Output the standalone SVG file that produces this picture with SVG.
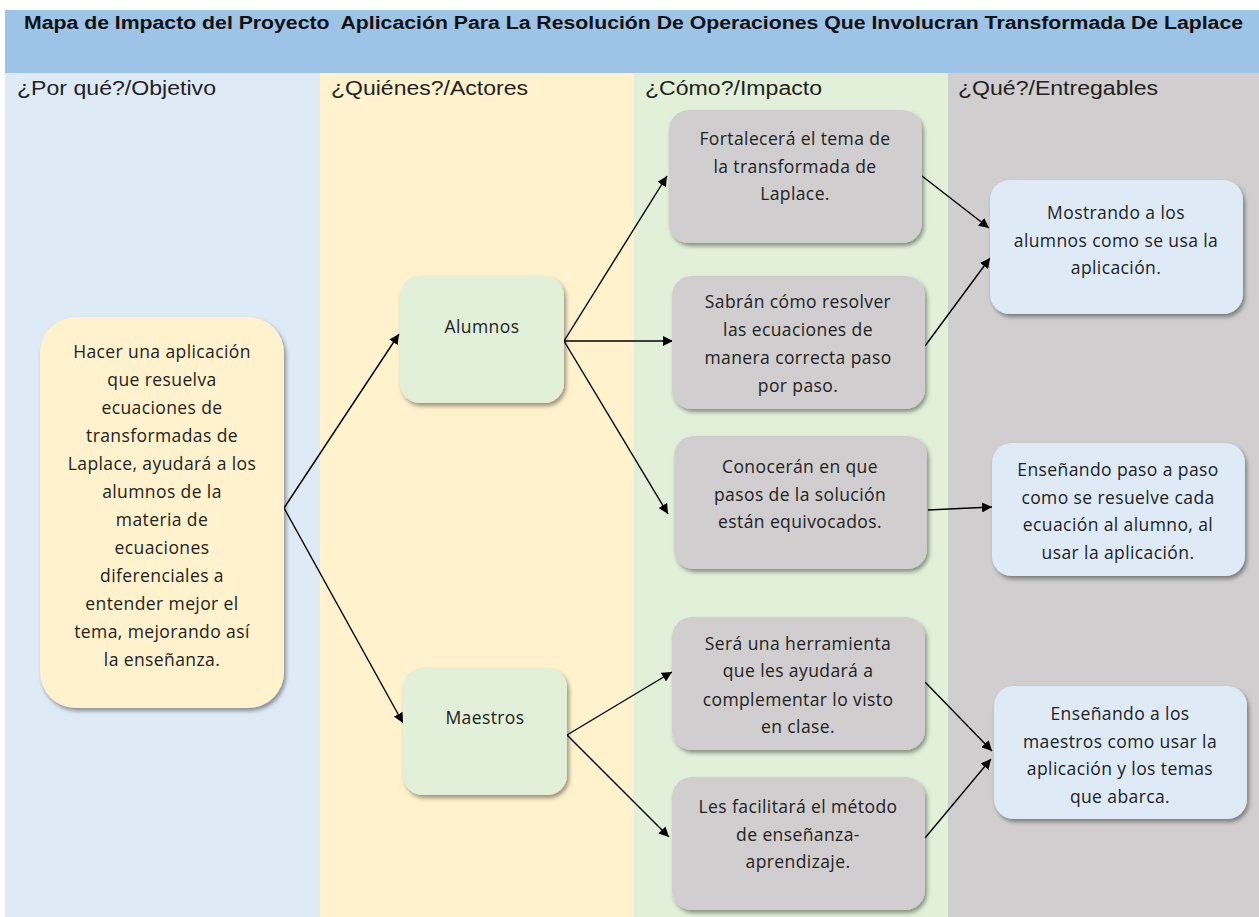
<svg xmlns="http://www.w3.org/2000/svg" width="1259" height="917" viewBox="0 0 1259 917">
  <defs>
    <filter id="shadow" x="-10%" y="-10%" width="125%" height="125%">
      <feDropShadow dx="2" dy="3" stdDeviation="2" flood-color="#000" flood-opacity="0.4"/>
    </filter>
    <marker id="arrow" viewBox="0 0 10 10" refX="10" refY="5" markerWidth="10" markerHeight="10" markerUnits="userSpaceOnUse" orient="auto">
      <path d="M0,0 L10,5 L0,10 z" fill="#000"/>
    </marker>
  </defs>
  <style>
    .title { font-family: "Liberation Sans", Arial, sans-serif; font-weight: bold; font-size: 18px; fill: #111; white-space: pre; }
    .head { font-family: "Liberation Sans", Arial, sans-serif; font-size: 20px; fill: #222; }
    .node rect { filter: url(#shadow); }
    .node text { font-family: "Open Sans", "Noto Sans", sans-serif; font-size: 17.5px; letter-spacing: 0.4px; fill: #222; text-anchor: middle; }
    .yel { fill: #FFF2CC; }
    .grn { fill: #E2F0D9; }
    .gry { fill: #D0CECE; }
    .blu { fill: #DEEBF7; }
    .conn line { stroke: #000; stroke-width: 1.4; marker-end: url(#arrow); }
  </style>

  <rect x="0" y="0" width="1259" height="917" fill="#fff"/>

  <!-- column bands -->
  <rect x="5" y="73" width="315" height="844" fill="#DEEBF7"/>
  <rect x="320" y="73" width="314" height="844" fill="#FFF2CC"/>
  <rect x="634" y="73" width="314" height="844" fill="#E2F0D9"/>
  <rect x="948" y="73" width="311" height="844" fill="#D0CECE"/>

  <!-- title bar -->
  <rect x="5" y="10" width="1254" height="63" fill="#9DC3E6"/>
  <text class="title" x="24" y="29" textLength="1219" lengthAdjust="spacingAndGlyphs" xml:space="preserve">Mapa de Impacto del Proyecto  Aplicación Para La Resolución De Operaciones Que Involucran Transformada De Laplace</text>

  <!-- column headings -->
  <text class="head" x="17" y="95" textLength="199" lengthAdjust="spacingAndGlyphs">¿Por qué?/Objetivo</text>
  <text class="head" x="331" y="95" textLength="197" lengthAdjust="spacingAndGlyphs">¿Quiénes?/Actores</text>
  <text class="head" x="645" y="95" textLength="177" lengthAdjust="spacingAndGlyphs">¿Cómo?/Impacto</text>
  <text class="head" x="958" y="95" textLength="200" lengthAdjust="spacingAndGlyphs">¿Qué?/Entregables</text>

  <!-- connectors -->
  <g id="connectors" class="conn">
    <line x1="284" y1="508" x2="399" y2="334"/>
    <line x1="284" y1="508" x2="403" y2="723"/>
    <line x1="564" y1="341" x2="667" y2="176"/>
    <line x1="564" y1="341" x2="673" y2="341"/>
    <line x1="564" y1="341" x2="668" y2="514"/>
    <line x1="567" y1="735" x2="672" y2="672"/>
    <line x1="567" y1="735" x2="669" y2="837"/>
    <line x1="922" y1="176" x2="989" y2="228"/>
    <line x1="925" y1="346" x2="990" y2="258"/>
    <line x1="928" y1="510" x2="992" y2="507"/>
    <line x1="925" y1="682" x2="992" y2="751"/>
    <line x1="925" y1="838" x2="991" y2="759"/>
  </g>

  <!-- objective -->
  <g id="objetivo" class="node">
    <rect class="yel" x="40" y="317" width="244" height="391" rx="36"/>
    <text x="162" y="358">Hacer una aplicación</text>
    <text x="162" y="386">que resuelva</text>
    <text x="162" y="414">ecuaciones de</text>
    <text x="162" y="442">transformadas de</text>
    <text x="162" y="470">Laplace, ayudará a los</text>
    <text x="162" y="498">alumnos de la</text>
    <text x="162" y="526">materia de</text>
    <text x="162" y="554">ecuaciones</text>
    <text x="162" y="582">diferenciales a</text>
    <text x="162" y="610">entender mejor el</text>
    <text x="162" y="638">tema, mejorando así</text>
    <text x="162" y="666">la enseñanza.</text>
  </g>

  <!-- actors -->
  <g id="alumnos" class="node">
    <rect class="grn" x="400" y="276" width="164" height="127" rx="20"/>
    <text x="482" y="333">Alumnos</text>
  </g>
  <g id="maestros" class="node">
    <rect class="grn" x="403" y="668" width="164" height="127" rx="20"/>
    <text x="485" y="724">Maestros</text>
  </g>

  <!-- impacts -->
  <g id="impacto1" class="node">
    <rect class="gry" x="669" y="110" width="253" height="133" rx="20"/>
    <text x="795" y="145">Fortalecerá el tema de</text>
    <text x="795" y="173">la transformada de</text>
    <text x="795" y="200">Laplace.</text>
  </g>
  <g id="impacto2" class="node">
    <rect class="gry" x="672" y="276" width="253" height="133" rx="20"/>
    <text x="798" y="308">Sabrán cómo resolver</text>
    <text x="798" y="336">las ecuaciones de</text>
    <text x="798" y="364">manera correcta paso</text>
    <text x="798" y="392">por paso.</text>
  </g>
  <g id="impacto3" class="node">
    <rect class="gry" x="674" y="436" width="253" height="133" rx="20"/>
    <text x="800" y="473">Conocerán en que</text>
    <text x="800" y="501">pasos de la solución</text>
    <text x="800" y="528">están equivocados.</text>
  </g>
  <g id="impacto4" class="node">
    <rect class="gry" x="672" y="617" width="253" height="133" rx="20"/>
    <text x="798" y="650">Será una herramienta</text>
    <text x="798" y="677">que les ayudará a</text>
    <text x="798" y="706">complementar lo visto</text>
    <text x="798" y="733">en clase.</text>
  </g>
  <g id="impacto5" class="node">
    <rect class="gry" x="672" y="777" width="253" height="133" rx="20"/>
    <text x="798" y="813">Les facilitará el método</text>
    <text x="798" y="841">de enseñanza-</text>
    <text x="798" y="868">aprendizaje.</text>
  </g>

  <!-- deliverables -->
  <g id="entregable1" class="node">
    <rect class="blu" x="990" y="180" width="253" height="134" rx="20"/>
    <text x="1116" y="219">Mostrando a los</text>
    <text x="1116" y="247">alumnos como se usa la</text>
    <text x="1116" y="274">aplicación.</text>
  </g>
  <g id="entregable2" class="node">
    <rect class="blu" x="992" y="443" width="253" height="133" rx="20"/>
    <text x="1118" y="476">Enseñando paso a paso</text>
    <text x="1118" y="504">como se resuelve cada</text>
    <text x="1118" y="531">ecuación al alumno, al</text>
    <text x="1118" y="559">usar la aplicación.</text>
  </g>
  <g id="entregable3" class="node">
    <rect class="blu" x="994" y="686" width="253" height="133" rx="20"/>
    <text x="1120" y="720">Enseñando a los</text>
    <text x="1120" y="748">maestros como usar la</text>
    <text x="1120" y="775">aplicación y los temas</text>
    <text x="1120" y="803">que abarca.</text>
  </g>
</svg>
